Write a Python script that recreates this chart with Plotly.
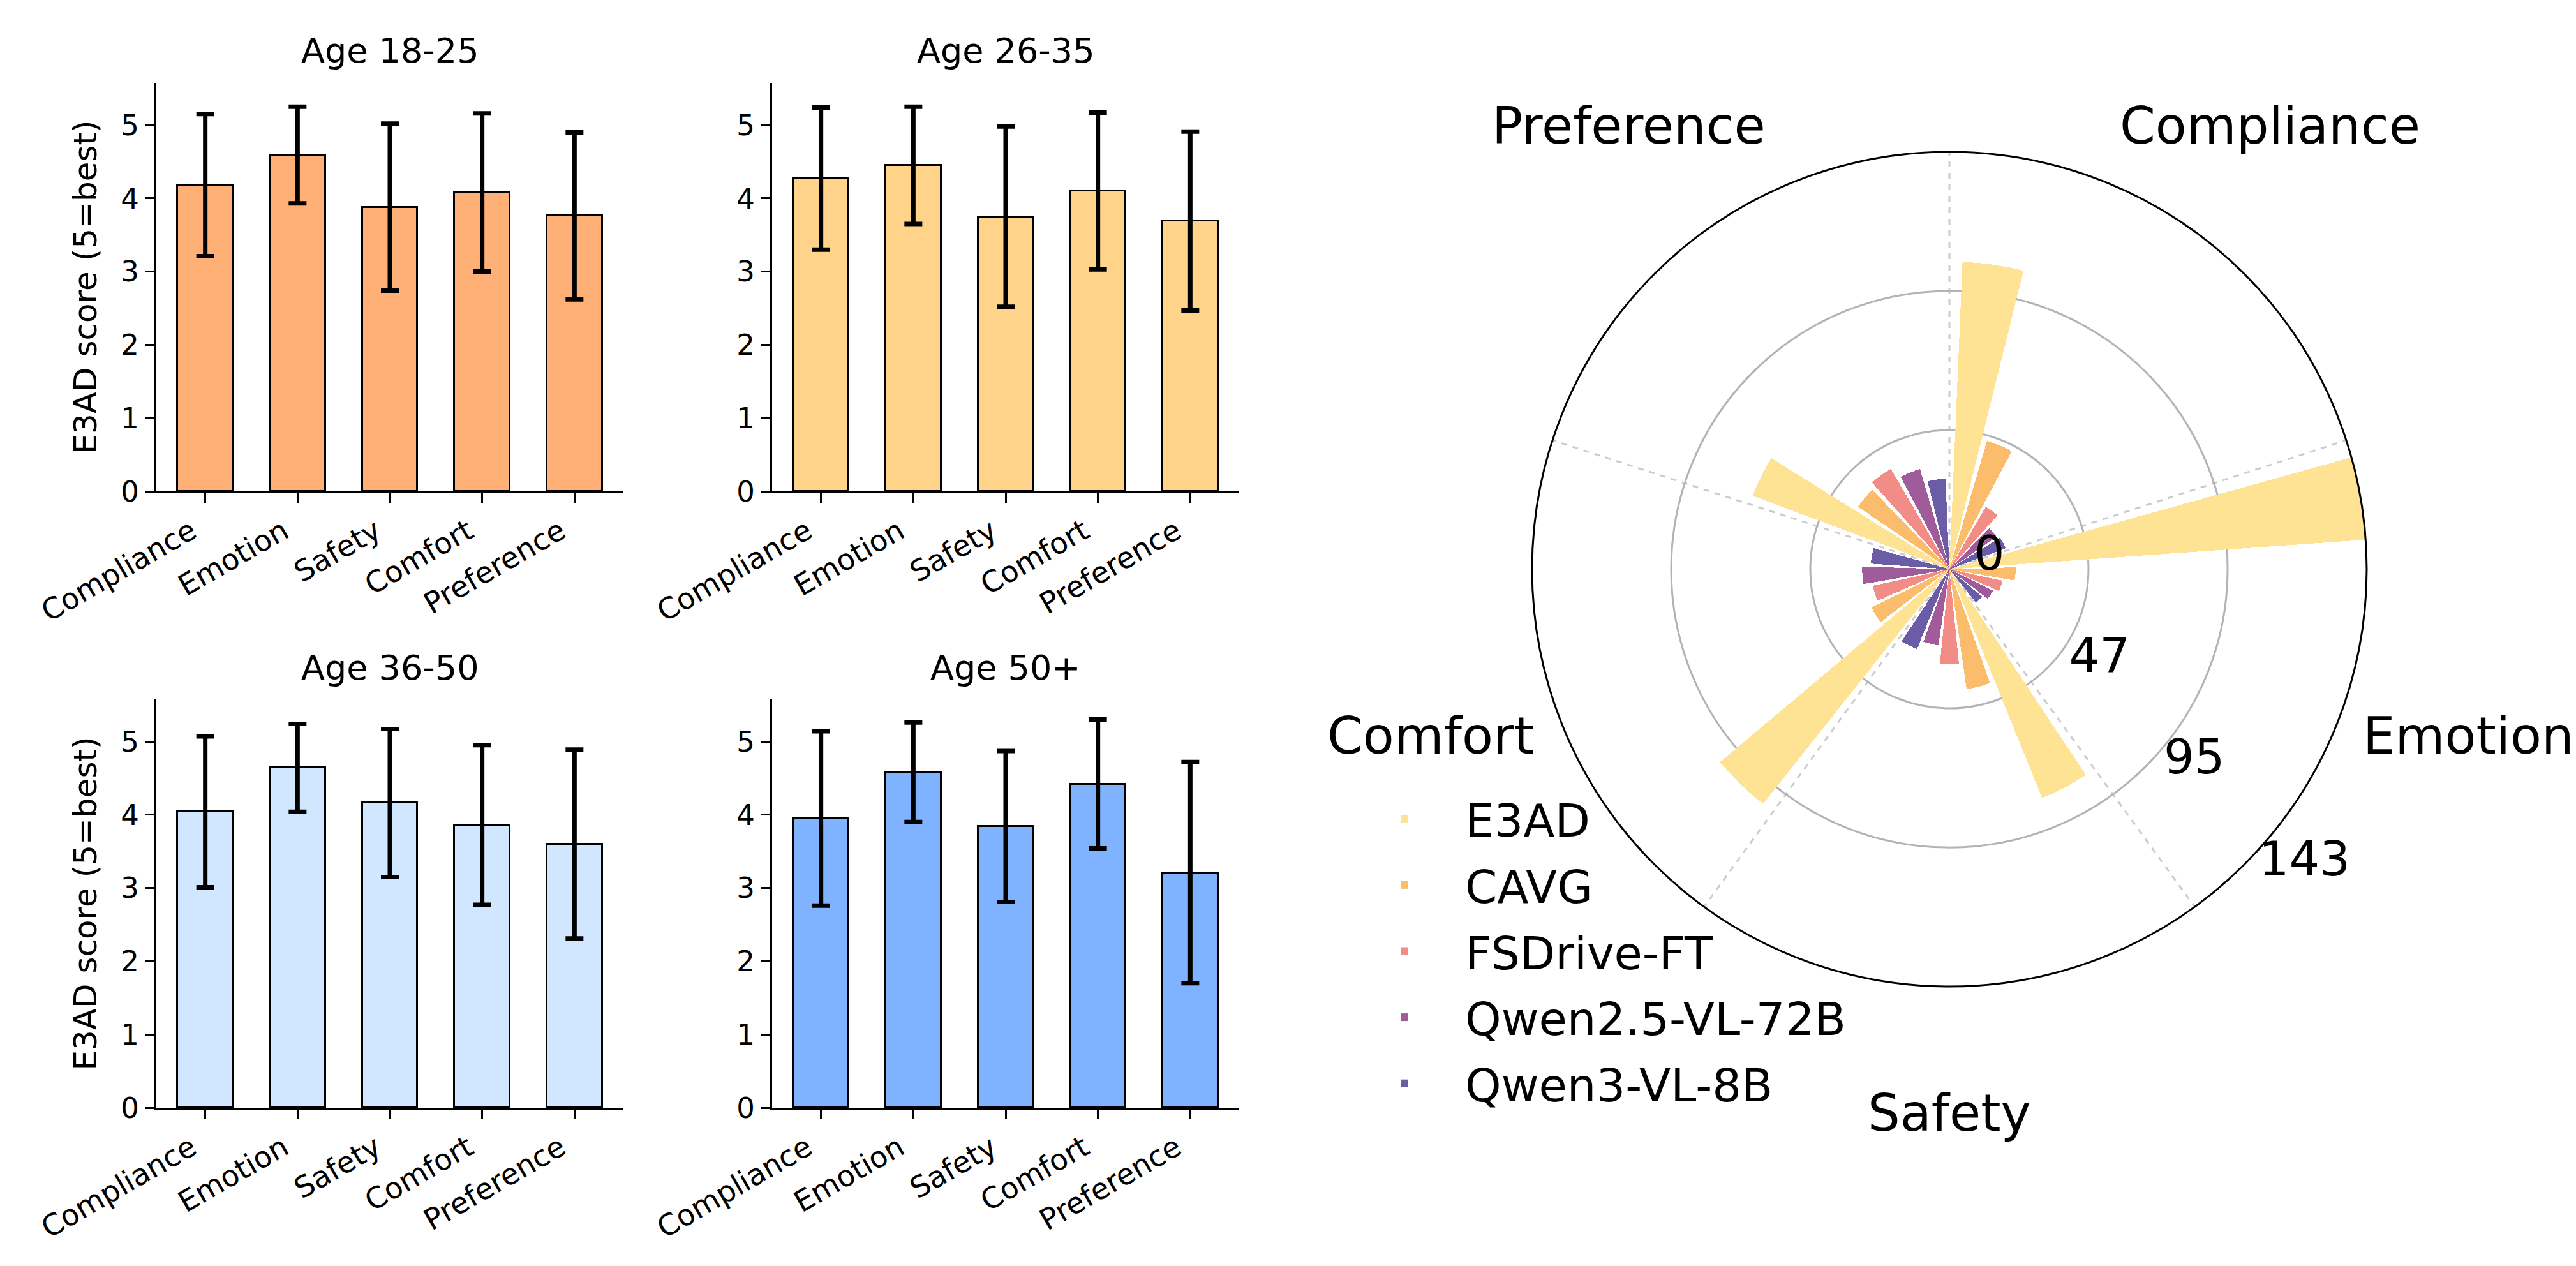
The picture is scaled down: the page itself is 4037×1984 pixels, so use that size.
import math
import plotly.graph_objects as go

# ---------------- data ----------------
categories = ["Compliance", "Emotion", "Safety", "Comfort", "Preference"]
age_groups = ["Age 18-25", "Age 26-35", "Age 36-50", "Age 50+"]

mean_18_25 = [4.18, 4.59, 3.88, 4.08, 3.76]
sd_18_25 = [0.97, 0.66, 1.14, 1.08, 1.14]
mean_26_35 = [4.27, 4.45, 3.75, 4.10, 3.69]
sd_26_35 = [0.97, 0.80, 1.23, 1.07, 1.22]
mean_36_50 = [4.04, 4.64, 4.16, 3.86, 3.60]
sd_36_50 = [1.03, 0.60, 1.01, 1.09, 1.29]
mean_50p = [3.95, 4.58, 3.84, 4.42, 3.21]
sd_50p = [1.19, 0.68, 1.03, 0.88, 1.51]
age_colors = ["#FFB077", "#FFD48A", "#D1E6FF", "#80B3FF"]
score_ticks = [0, 1, 2, 3, 4, 5]

models = ["E3AD", "CAVG", "FSDrive-FT", "Qwen2.5-VL-72B", "Qwen3-VL-8B"]
e3ad = [105.4, 143.0, 84.6, 102.7, 71.9]
cavg = [45.8, 22.7, 41.5, 29.8, 37.9]
fsdrive = [24.7, 18.6, 32.6, 26.9, 39.8]
qwen25 = [19.6, 16.6, 26.4, 29.9, 35.8]
qwen3 = [20.5, 14.6, 29.6, 27.0, 31.0]
model_colors = ["#FEE394", "#FBBC6B", "#F28C87", "#A05B9B", "#6B5CA8"]
radial_tick_labels = ["0", "47", "95", "143"]

# ---------------- layout geometry ----------------
W, H = 4037, 1984
FONT = "DejaVu Sans"
col_px = [(237, 969), (1202, 1934)]
row_px = [(122, 762), (1088, 1728)]
polar_cx, polar_cy, polar_R = 3047, 884, 654
label_R = 855  # px distance of category labels from polar centre

means = [mean_18_25, mean_26_35, mean_36_50, mean_50p]
sds = [sd_18_25, sd_26_35, sd_36_50, sd_50p]

fig = go.Figure()
annotations = []
layout_axes = {}
xs = list(range(len(categories)))

for k in range(4):
    r, c = divmod(k, 2)
    idx = "" if k == 0 else str(k + 1)
    fig.add_trace(go.Bar(
        x=xs, y=means[k], width=0.6,
        marker=dict(color=age_colors[k], line=dict(color="black", width=3)),
        error_y=dict(type="data", array=sds[k], visible=True,
                     color="black", thickness=7, width=14),
        xaxis="x" + idx, yaxis="y" + idx, showlegend=False,
    ))
    x0, x1 = col_px[c]
    y0, y1 = row_px[r]
    xd = [x0 / W, x1 / W]
    yd = [1 - y1 / H, 1 - y0 / H]
    layout_axes["xaxis" + idx] = dict(
        domain=xd, anchor="y" + idx, range=[-0.53, 4.53],
        tickvals=xs, ticktext=categories, tickangle=-30,
        showline=True, linecolor="black", linewidth=3,
        ticks="outside", ticklen=15, tickwidth=3, tickcolor="black",
        showgrid=False, zeroline=False, automargin=False,
        ticklabelshift=-22,
        tickfont=dict(size=46, color="black", family=FONT),
    )
    ya = dict(
        domain=yd, anchor="x" + idx, range=[0, 5.575],
        tickvals=score_ticks,
        showline=True, linecolor="black", linewidth=3,
        ticks="outside", ticklen=15, tickwidth=3, tickcolor="black",
        showgrid=False, zeroline=False, automargin=False,
        tickfont=dict(size=45, color="black", family=FONT),
    )
    if c == 0:
        ya["title"] = dict(text="E3AD score (5=best)", standoff=22,
                           font=dict(size=50, color="black", family=FONT))
    layout_axes["yaxis" + idx] = ya
    annotations.append(dict(
        text=age_groups[k], xref="paper", yref="paper",
        x=(x0 + x1) / 2 / W, y=1 - (y0 - 50) / H,
        xanchor="center", yanchor="middle", showarrow=False,
        font=dict(size=54, color="black", family=FONT),
    ))

# ---------------- polar (radial bar) chart ----------------
n_cat = len(categories)
sector = 360 / n_cat
spacing = 13.9
bar_w = 11.5
cat_angles = [i * sector + sector / 2 for i in range(n_cat)]
series = [e3ad, cavg, fsdrive, qwen25, qwen3]
rmax = max(max(s) for s in series)

for j, (name, vals) in enumerate(zip(models, series)):
    fig.add_trace(go.Barpolar(
        r=vals,
        theta=[a + (j - 2) * spacing for a in cat_angles],
        width=[bar_w] * n_cat,
        name=name, legendgroup=name,
        marker=dict(color=model_colors[j], line=dict(width=0)),
        subplot="polar",
    ))

# category labels around the polar chart (clockwise from top)
for ang, cat in zip(cat_angles, categories):
    t = math.radians(ang)
    px = polar_cx + label_R * math.sin(t)
    py = polar_cy - label_R * math.cos(t) - 3
    annotations.append(dict(
        text=cat, xref="paper", yref="paper", x=px / W, y=1 - py / H,
        xanchor="center", yanchor="middle", showarrow=False,
        font=dict(size=80, color="black", family=FONT),
    ))

polar_dom_x = [(polar_cx - polar_R) / W, (polar_cx + polar_R) / W]
polar_dom_y = [(H - polar_cy - polar_R) / H, (H - polar_cy + polar_R) / H]

rad_angle = -47

fig.update_layout(
    width=W, height=H,
    margin=dict(l=0, r=0, t=0, b=0, autoexpand=False),
    paper_bgcolor="white", plot_bgcolor="white",
    font=dict(family=FONT, color="black"),
    annotations=annotations,
    bargap=0,
    polar=dict(
        domain=dict(x=polar_dom_x, y=polar_dom_y),
        bgcolor="white",
        angularaxis=dict(
            direction="clockwise", rotation=90, thetaunit="degrees",
            tickvals=[i * sector for i in range(n_cat)],
            showticklabels=False, ticks="",
            showgrid=True, gridcolor="#cccccc", gridwidth=2.5, griddash="dash",
            showline=True, linecolor="black", linewidth=3,
        ),
        radialaxis=dict(
            range=[0, rmax],
            tickvals=[rmax * i / 3 for i in range(4)],
            ticktext=radial_tick_labels,
            showgrid=True, gridcolor="#b3b3b3", gridwidth=3,
            showline=False, ticks="", angle=rad_angle, tickangle=rad_angle,
            side="counterclockwise",
            tickfont=dict(size=75, color="black", family=FONT),
        ),
    ),
    legend=dict(
        x=2098 / W, y=1 - 1222 / H, xanchor="left", yanchor="top",
        font=dict(size=72, color="black", family=FONT),
        bgcolor="rgba(0,0,0,0)", itemwidth=180, tracegroupgap=7,
    ),
    **layout_axes,
)

fig.write_html("out.html")
